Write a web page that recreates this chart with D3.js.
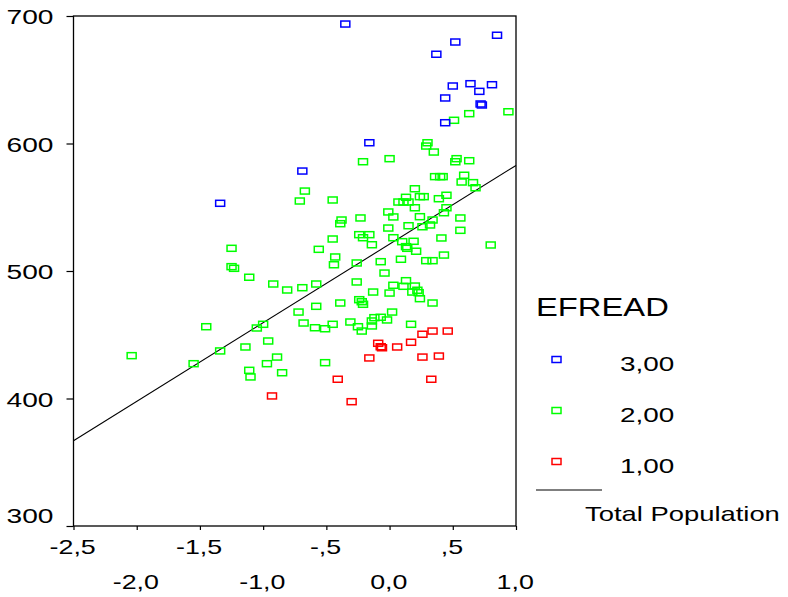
<!DOCTYPE html>
<meta charset="utf-8">
<style>
    body { margin: 0; background: #fff; }
    svg { display: block; font-family: "Liberation Sans", Arial, sans-serif; }
    .pt { fill: none; stroke-width: 1.5; }
</style>
<svg width="788" height="597"></svg>
<script src="https://cdn.jsdelivr.net/npm/d3@7"></script>
<script>
    // EFREAD = 3,00
    var grp3X = [-0.35, 0.85, 0.52, 0.37, 0.50, 0.64, 0.71, 0.81, 0.44, 0.72, 0.73, 0.44, -0.16, -0.69, -1.34];
    var grp3Y = [693.7, 684.9, 679.6, 670.0, 645.1, 646.9, 640.9, 646.1, 635.7, 631.0, 630.2, 616.3, 600.6, 578.4, 553.1];

    // EFREAD = 2,00
    var grp2X = [0.94, 0.63, 0.51, 0.30, 0.29, 0.35, -0.21, 0.00, 0.53, 0.52, 0.63, 0.36, 0.40, 0.42, 0.59,
        0.57, 0.66, 0.68, -0.67, -0.71, -0.45, 0.20, 0.13, 0.24, 0.27, 0.07, 0.11, 0.15, 0.39, 0.45,
        0.20, 0.45, 0.43, -0.01, 0.03, -0.23, -0.38, -0.39, 0.24, 0.34, 0.32, 0.56, 0.15, 0.26, -0.01,
        0.56, -0.24, -0.16, -0.21, -0.14, -0.45, 0.03, 0.10, 0.19, 0.41, 0.80, -1.25, -0.56, 0.13, 0.14,
        0.21, -0.43, -0.44, -0.26, -0.07, 0.09, 0.29, 0.34, 0.43, -1.25, -1.23, -1.11, -0.92, -0.81, -0.69,
        -0.58, -0.26, -0.04, -0.13, 0.03, 0.13, 0.11, 0.20, 0.18, 0.22, 0.23, 0.00, 0.24, 0.34, -0.39,
        -0.24, -0.22, -0.21, -0.58, -0.72, 0.02, -1.45, -1.05, -1.00, -0.68, -0.59, -0.51, -0.45, -0.31, -0.25,
        -0.22, -0.14, -0.14, -0.12, -0.07, -0.02, 0.17, -0.96, -1.14, -1.34, -2.04, -1.55, -0.89, -0.97, -1.11,
        -1.10, -0.85, -0.51];
    var grp2Y = [624.9, 623.4, 618.2, 600.6, 598.0, 593.3, 585.7, 588.1, 588.1, 585.7, 586.5, 574.0, 574.0, 574.0, 575.1,
        569.8, 569.3, 565.3, 562.7, 554.9, 555.7, 564.5, 557.8, 558.3, 558.3, 554.1, 554.1, 554.1, 556.7, 559.4,
        549.6, 549.6, 545.7, 546.3, 542.4, 541.6, 540.0, 537.1, 542.6, 540.0, 536.1, 541.6, 535.5, 534.7, 533.7,
        531.9, 528.5, 528.5, 526.1, 520.6, 525.1, 526.1, 523.0, 523.3, 525.9, 520.4, 517.8, 517.0, 519.1, 517.8,
        515.5, 511.0, 504.9, 506.3, 507.3, 509.2, 508.1, 508.1, 512.5, 503.4, 502.1, 495.1, 489.8, 485.1, 486.9,
        489.8, 491.4, 498.4, 483.5, 488.8, 492.4, 488.0, 488.2, 483.5, 484.9, 483.0, 482.7, 478.3, 474.9, 474.9,
        477.5, 475.9, 473.9, 472.3, 467.8, 467.8, 456.3, 455.3, 458.2, 459.2, 455.5, 454.7, 458.2, 460.0, 456.3,
        452.9, 456.9, 460.8, 463.4, 463.7, 461.6, 458.2, 445.1, 440.4, 437.3, 433.6, 427.3, 432.5, 427.3, 422.1,
        416.9, 420.2, 428.1];

    // EFREAD = 1,00
    var grp1X = [0.26, 0.34, 0.46, 0.17, -0.09, -0.07, -0.06, 0.06, -0.16, 0.26, 0.39, -0.41, 0.33, -0.93, -0.30];
    var grp1Y = [450.4, 452.9, 452.9, 444.1, 443.3, 440.6, 439.8, 440.4, 431.8, 432.5, 433.3, 415.1, 415.1, 402.0, 397.5];

    // total population fit line
    var fitIntercept = 521.1,
        fitSlope = 61.7;

    var legendTitle = "EFREAD";
    var legendLabels = ["3,00", "2,00", "1,00"];
    var fitLabel = "Total Population";
    var xTickValues = [-2.5, -2.0, -1.5, -1.0, -0.5, 0.0, 0.5, 1.0];
    var xTickLabels = ["-2,5", "-2,0", "-1,5", "-1,0", "-,5", "0,0", ",5", "1,0"];
    var yTickValues = [300, 400, 500, 600, 700];
    var yTickLabels = ["300", "400", "500", "600", "700"];

    var colors = ["#0000ff", "#00ff00", "#ff0000"];

    // the original text is drawn wide, so every label gets a horizontal stretch
    var stretch = 1.34;

    var svg = d3.select("svg"),
        plotL = 73.5, plotR = 516, plotT = 16, plotB = 526;

    var x = d3.scaleLinear().domain([-2.5, 1.0]).range([plotL, plotR]);
    var y = d3.scaleLinear().domain([300, 700]).range([plotB, plotT]);

    // frame
    svg.append("rect")
        .attr("x", plotL).attr("y", plotT)
        .attr("width", plotR - plotL).attr("height", plotB - plotT)
        .attr("fill", "none").attr("stroke", "#000").attr("stroke-width", 1.3);

    // y axis
    var yAxis = svg.append("g")
        .attr("transform", "translate(" + plotL + ",0)")
        .call(d3.axisLeft(y).tickValues(yTickValues).tickSize(7)
            .tickFormat(function(d, i) { return yTickLabels[i]; }));
    yAxis.select(".domain").remove();
    yAxis.selectAll("line").attr("stroke-width", 1.2);
    yAxis.selectAll("text")
        .attr("font-size", 21).attr("font-family", null).attr("fill", "#000")
        .attr("x", -20 / stretch)
        .attr("y", function(d) { return d === 300 ? -3.3 : 0; })
        .attr("dy", function(d) { return d === 300 ? 0 : "0.36em"; })
        .attr("transform", "scale(" + stretch + ",1)");

    // x axis, labels in two alternating rows
    var xAxis = svg.append("g")
        .attr("transform", "translate(0," + plotB + ")")
        .call(d3.axisBottom(x).tickValues(xTickValues).tickSize(4)
            .tickFormat(function(d, i) { return xTickLabels[i]; }));
    xAxis.select(".domain").remove();
    xAxis.selectAll("line").attr("stroke-width", 1.2);
    xAxis.selectAll("text")
        .attr("font-size", 20).attr("font-family", null).attr("fill", "#000")
        .attr("x", -1)
        .attr("y", function(d, i) { return i % 2 === 0 ? 28 : 63; })
        .attr("dy", 0)
        .attr("transform", "scale(" + stretch + ",1)");

    // fit line
    svg.append("line")
        .attr("x1", x(-2.5)).attr("y1", y(fitIntercept + fitSlope * -2.5))
        .attr("x2", x(1.0)).attr("y2", y(fitIntercept + fitSlope * 1.0))
        .attr("stroke", "#000").attr("stroke-width", 1.1);

    // points
    var groups = [
        { xs: grp1X, ys: grp1Y, color: colors[2] },
        { xs: grp2X, ys: grp2Y, color: colors[1] },
        { xs: grp3X, ys: grp3Y, color: colors[0] }
    ];
    groups.forEach(function(g) {
        svg.append("g").selectAll("rect")
            .data(g.xs.map(function(v, i) { return [v, g.ys[i]]; }))
            .enter().append("rect")
            .attr("class", "pt")
            .attr("x", function(d) { return x(d[0]) - 4.5; })
            .attr("y", function(d) { return y(d[1]) - 3; })
            .attr("width", 9).attr("height", 6)
            .attr("stroke", g.color);
    });

    // legend
    function wideText(parent, tx, ty, size, s, str) {
        return parent.append("text")
            .attr("transform", "translate(" + tx + "," + ty + ") scale(" + s + ",1)")
            .attr("font-size", size).text(str);
    }
    var lg = svg.append("g");
    wideText(lg, 536, 316, 26, 1.26, legendTitle);
    legendLabels.forEach(function(lab, i) {
        var cy = 359.5 + i * 51;
        lg.append("rect").attr("class", "pt")
            .attr("x", 552).attr("y", cy - 3).attr("width", 9).attr("height", 6)
            .attr("stroke", colors[i]);
        wideText(lg, 620, cy + 11, 20.5, 1.36, lab);
    });
    lg.append("line").attr("x1", 536).attr("x2", 602).attr("y1", 490).attr("y2", 490)
        .attr("stroke", "#000").attr("stroke-width", 1.1);
    wideText(lg, 585, 521, 20, 1.37, fitLabel);
</script>
